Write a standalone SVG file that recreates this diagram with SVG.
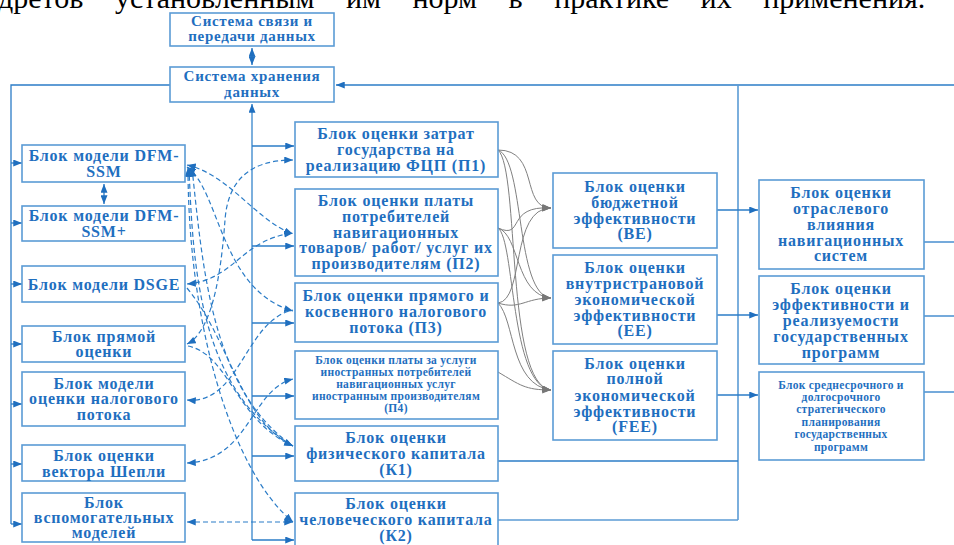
<svg xmlns="http://www.w3.org/2000/svg" width="954" height="545" viewBox="0 0 954 545">
<defs>
<marker id="ab" viewBox="0 0 10 8" refX="10" refY="4" markerWidth="9" markerHeight="7" markerUnits="userSpaceOnUse" orient="auto-start-reverse"><path d="M0,0 L10,4 L0,8 Z" fill="#1f6fbf"/></marker>
<marker id="ag" viewBox="0 0 10 8" refX="10" refY="4" markerWidth="9" markerHeight="7" markerUnits="userSpaceOnUse" orient="auto"><path d="M0,0 L10,4 L0,8 Z" fill="#777"/></marker>
<style>
.box{fill:#fff;stroke:#5b9bd5;stroke-width:1.6}
.t{fill:#1f6fbf;text-anchor:middle;dominant-baseline:central;font-size:16px;letter-spacing:0.8px}
.s{font-size:15px;letter-spacing:0.7px}
.m{font-size:11.5px;letter-spacing:0.3px}
.ln{fill:none;stroke:#2b7cc7;stroke-width:1.3}
.lt{fill:none;stroke:#5b9bd5;stroke-width:1.6}
.d{fill:none;stroke:#2b7cc7;stroke-width:1.2;stroke-dasharray:5 3}
.g{fill:none;stroke:#808080;stroke-width:1}
</style>
</defs>
<text x="-2" y="8" font-family="Liberation Serif, serif" font-size="30" fill="#000" word-spacing="24">дретов установленным им норм в практике их применения.</text>

<g id="connectors">
<path class="ln" d="M252,48 L252,65" marker-start="url(#ab)" marker-end="url(#ab)"/>
<path class="ln" d="M170,85 L11,85 L11,524"/>
<path class="ln" d="M11,163 L22,163" marker-end="url(#ab)"/>
<path class="ln" d="M11,223 L22,223" marker-end="url(#ab)"/>
<path class="ln" d="M11,284 L22,284" marker-end="url(#ab)"/>
<path class="ln" d="M11,344 L22,344" marker-end="url(#ab)"/>
<path class="ln" d="M11,404 L22,404" marker-end="url(#ab)"/>
<path class="ln" d="M11,464 L22,464" marker-end="url(#ab)"/>
<path class="ln" d="M11,524 L22,524" marker-end="url(#ab)"/>
<path class="ln" d="M954,85 L336,85" marker-end="url(#ab)"/>
<path class="lt" d="M738,85 L738,520"/>
<path class="ln" d="M498,461 L738,461"/>
<path class="lt" d="M498,520 L738,520"/>
<path class="lt" d="M252,540 L252,104" marker-end="url(#ab)"/>
<path class="ln" d="M252,146 L294,146" marker-end="url(#ab)"/>
<path class="ln" d="M252,246 L294,246" marker-end="url(#ab)"/>
<path class="ln" d="M252,323 L294,323" marker-end="url(#ab)"/>
<path class="ln" d="M252,396 L294,396" marker-end="url(#ab)"/>
<path class="ln" d="M252,456 L294,456" marker-end="url(#ab)"/>
<path class="ln" d="M252,540 L294,540" marker-end="url(#ab)"/>
<path class="ln" d="M104,184 L104,204" marker-start="url(#ab)" marker-end="url(#ab)"/>
<path class="ln" d="M717,210 L758,210" marker-end="url(#ab)"/>
<path class="ln" d="M717,315 L758,315" marker-end="url(#ab)"/>
<path class="ln" d="M717,395 L758,395" marker-end="url(#ab)"/>
<path class="ln" d="M924,242 L954,242"/>
<path class="ln" d="M924,316 L954,316"/>
<path class="ln" d="M924,392 L954,392"/>

<path class="d" d="M187,165 C230,175 255,220 293,234" marker-start="url(#ab)" marker-end="url(#ab)"/>
<path class="d" d="M187,167 C220,190 220,290 293,311" marker-start="url(#ab)" marker-end="url(#ab)"/>
<path class="d" d="M189,168 C193,270 200,390 293,446" marker-start="url(#ab)"/>
<path class="d" d="M192,168 C203,270 212,390 293,446" marker-start="url(#ab)"/>
<path class="d" d="M188,168 C188,320 230,470 293,522" marker-start="url(#ab)" marker-end="url(#ab)"/>
<path class="d" d="M187,284 C235,280 240,240 293,233" marker-start="url(#ab)" marker-end="url(#ab)"/>
<path class="d" d="M187,288 C230,340 240,420 293,446" marker-end="url(#ab)"/>
<path class="d" d="M187,344 C215,330 222,260 225,220 C228,180 250,160 293,160" marker-start="url(#ab)" marker-end="url(#ab)"/>
<path class="d" d="M188,346 C230,355 235,420 293,446" marker-end="url(#ab)"/>
<path class="d" d="M187,400 C240,405 245,320 293,310" marker-start="url(#ab)"/>
<path class="d" d="M187,463 C250,460 250,390 293,379" marker-start="url(#ab)" marker-end="url(#ab)"/>
<path class="d" d="M187,522 L293,522" marker-start="url(#ab)" marker-end="url(#ab)"/>

<path class="g" d="M498,150 C540,150 520,208 551,208" marker-end="url(#ag)"/>
<path class="g" d="M498,150 C525,160 515,295 551,298" marker-end="url(#ag)"/>
<path class="g" d="M498,150 C520,170 505,385 551,390" marker-end="url(#ag)"/>
<path class="g" d="M498,228 C525,240 505,205 551,208" marker-end="url(#ag)"/>
<path class="g" d="M498,228 C520,235 515,295 551,298" marker-end="url(#ag)"/>
<path class="g" d="M498,228 C515,240 510,385 551,390" marker-end="url(#ag)"/>
<path class="g" d="M498,303 C525,300 510,208 551,208" marker-end="url(#ag)"/>
<path class="g" d="M498,303 C520,310 525,298 551,298" marker-end="url(#ag)"/>
<path class="g" d="M498,303 C515,320 510,385 551,390" marker-end="url(#ag)"/>
<path class="g" d="M498,372 C520,385 525,390 551,390" marker-end="url(#ag)"/>
</g>

<g font-family="Liberation Serif, serif" font-weight="bold">
<g id="n-svyaz"><rect class="box" x="170" y="13" width="164" height="33"/><text class="t s" x="252" y="21">Система связи и</text><text class="t s" x="252" y="36">передачи данных</text></g>
<g id="n-hran"><rect class="box" x="170" y="67" width="164" height="35"/><text class="t s" x="252" y="76">Система хранения</text><text class="t s" x="252" y="92">данных</text></g>

<g id="n-dfm"><rect class="box" x="22" y="145" width="163" height="37"/><text class="t" x="104" y="155">Блок модели DFM-</text><text class="t" x="104" y="171">SSM</text></g>
<g id="n-dfmp"><rect class="box" x="22" y="206" width="163" height="35"/><text class="t" x="104" y="215">Блок модели DFM-</text><text class="t" x="104" y="231">SSM+</text></g>
<g id="n-dsge"><rect class="box" x="22" y="266" width="163" height="36"/><text class="t" x="104" y="284">Блок модели DSGE</text></g>
<g id="n-pryam"><rect class="box" x="22" y="326" width="163" height="36"/><text class="t" x="104" y="336">Блок прямой</text><text class="t" x="104" y="351">оценки</text></g>
<g id="n-nalog"><rect class="box" x="22" y="372" width="163" height="54"/><text class="t" x="104" y="383">Блок модели</text><text class="t" x="104" y="398">оценки налогового</text><text class="t" x="104" y="414">потока</text></g>
<g id="n-shepli"><rect class="box" x="22" y="445" width="163" height="36"/><text class="t" x="104" y="455">Блок оценки</text><text class="t" x="104" y="471">вектора Шепли</text></g>
<g id="n-vspom"><rect class="box" x="22" y="493" width="163" height="49"/><text class="t" x="104" y="502">Блок</text><text class="t" x="104" y="517">вспомогательных</text><text class="t" x="104" y="532">моделей</text></g>

<g id="n-p1"><rect class="box" x="295" y="122" width="203" height="55"/><text class="t" x="396" y="133">Блок оценки затрат</text><text class="t" x="396" y="149">государства на</text><text class="t" x="396" y="165">реализацию ФЦП (П1)</text></g>
<g id="n-p2"><rect class="box" x="295" y="189" width="203" height="87"/><text class="t" x="396" y="200">Блок оценки платы</text><text class="t" x="396" y="216">потребителей</text><text class="t" x="396" y="232">навигационных</text><text class="t" x="396" y="247">товаров/ работ/ услуг их</text><text class="t" x="396" y="263">производителям (П2)</text></g>
<g id="n-p3"><rect class="box" x="295" y="283" width="203" height="59"/><text class="t" x="396" y="295">Блок оценки прямого и</text><text class="t" x="396" y="311">косвенного налогового</text><text class="t" x="396" y="327">потока (П3)</text></g>
<g id="n-p4"><rect class="box" x="295" y="351" width="203" height="68"/><text class="t m" x="396" y="360">Блок оценки платы за услуги</text><text class="t m" x="396" y="372">иностранных потребителей</text><text class="t m" x="396" y="384">навигационных услуг</text><text class="t m" x="396" y="396">иностранным производителям</text><text class="t m" x="396" y="408">(П4)</text></g>
<g id="n-k1"><rect class="box" x="295" y="426" width="203" height="55"/><text class="t" x="396" y="437">Блок оценки</text><text class="t" x="396" y="453">физического капитала</text><text class="t" x="396" y="469">(К1)</text></g>
<g id="n-k2"><rect class="box" x="295" y="493" width="203" height="56"/><text class="t" x="396" y="503">Блок оценки</text><text class="t" x="396" y="519">человеческого капитала</text><text class="t" x="396" y="535">(К2)</text></g>

<g id="n-be"><rect class="box" x="553" y="173" width="164" height="75"/><text class="t" x="635" y="186">Блок оценки</text><text class="t" x="635" y="202">бюджетной</text><text class="t" x="635" y="218">эффективности</text><text class="t" x="635" y="233">(BE)</text></g>
<g id="n-ee"><rect class="box" x="553" y="255" width="164" height="89"/><text class="t" x="635" y="267">Блок оценки</text><text class="t" x="635" y="283">внутристрановой</text><text class="t" x="635" y="299">экономической</text><text class="t" x="635" y="315">эффективности</text><text class="t" x="635" y="330">(EE)</text></g>
<g id="n-fee"><rect class="box" x="553" y="351" width="164" height="89"/><text class="t" x="635" y="363">Блок оценки</text><text class="t" x="635" y="378">полной</text><text class="t" x="635" y="395">экономической</text><text class="t" x="635" y="411">эффективности</text><text class="t" x="635" y="426">(FEE)</text></g>

<g id="n-otr"><rect class="box" x="759" y="180" width="165" height="89"/><text class="t" x="841" y="192">Блок оценки</text><text class="t" x="841" y="208">отраслевого</text><text class="t" x="841" y="224">влияния</text><text class="t" x="841" y="240">навигационных</text><text class="t" x="841" y="255">систем</text></g>
<g id="n-eff"><rect class="box" x="759" y="276" width="165" height="88"/><text class="t" x="841" y="288">Блок оценки</text><text class="t" x="841" y="304">эффективности и</text><text class="t" x="841" y="320">реализуемости</text><text class="t" x="841" y="336">государственных</text><text class="t" x="841" y="352">программ</text></g>
<g id="n-plan"><rect class="box" x="759" y="372" width="165" height="88"/><text class="t m" x="841" y="385">Блок среднесрочного и</text><text class="t m" x="841" y="397">долгосрочного</text><text class="t m" x="841" y="409">стратегического</text><text class="t m" x="841" y="422">планирования</text><text class="t m" x="841" y="434">государственных</text><text class="t m" x="841" y="447">программ</text></g>
</g>
</svg>
